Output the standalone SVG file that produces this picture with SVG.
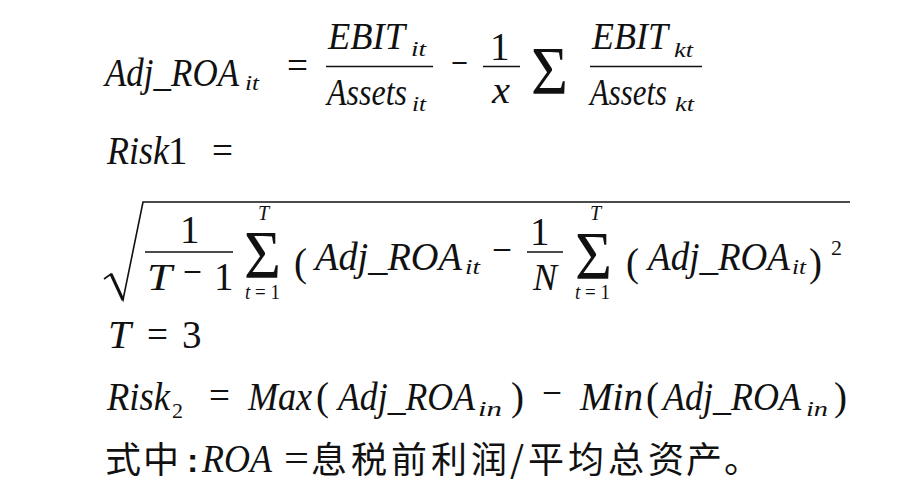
<svg xmlns="http://www.w3.org/2000/svg" width="906" height="492" viewBox="0 0 906 492" font-family="Liberation Serif, DejaVu Serif, serif">
<style>
text{fill:#111}
.m{font-style:italic;font-size:39px}
.f{font-style:italic;font-size:37px}
.u{font-size:39px}
.s{font-style:italic;font-size:22px}
.su{font-size:22px}
.sg{font-size:68px}
.lim{font-size:20px}
.cjk{font-size:36px}
.rule{stroke:#111;stroke-width:1.6;fill:none}
</style>
<rect width="906" height="492" fill="#fff"/>
<g id="eq1" font-family="Liberation Serif, DejaVu Serif, serif">
<text class="m" x="105" y="86" textLength="134" lengthAdjust="spacingAndGlyphs">Adj_ROA</text>
<text class="s" x="245" y="90" textLength="14" lengthAdjust="spacingAndGlyphs">it</text>
<text class="u" x="287" y="79" textLength="21" lengthAdjust="spacingAndGlyphs">=</text>
<text class="f" x="328" y="49" textLength="77" lengthAdjust="spacingAndGlyphs">EBIT</text>
<text class="s" x="411" y="56" textLength="15" lengthAdjust="spacingAndGlyphs">it</text>
<line class="rule" x1="326" y1="66.5" x2="433" y2="66.5"/>
<text class="f" x="327" y="105" textLength="80" lengthAdjust="spacingAndGlyphs">Assets</text>
<text class="s" x="412" y="111" textLength="14" lengthAdjust="spacingAndGlyphs">it</text>
<text class="u" x="451" y="76" font-size="30" textLength="17" lengthAdjust="spacingAndGlyphs">−</text>
<text class="u" x="490" y="60" font-size="36">1</text>
<line class="rule" x1="483" y1="66.5" x2="520" y2="66.5"/>
<text class="f" x="492" y="103" textLength="18" lengthAdjust="spacingAndGlyphs">x</text>
<text class="sg" x="531" y="93" textLength="37" lengthAdjust="spacingAndGlyphs">Σ</text>
<text class="f" x="592" y="49" textLength="76" lengthAdjust="spacingAndGlyphs">EBIT</text>
<text class="s" x="674" y="57" textLength="19" lengthAdjust="spacingAndGlyphs">kt</text>
<line class="rule" x1="590" y1="66.5" x2="702" y2="66.5"/>
<text class="f" x="590" y="105" textLength="77" lengthAdjust="spacingAndGlyphs">Assets</text>
<text class="s" x="675" y="111" textLength="19" lengthAdjust="spacingAndGlyphs">kt</text>
</g>
<g id="eq2" font-family="Liberation Serif, DejaVu Serif, serif">
<text class="m" x="107" y="164" textLength="62" lengthAdjust="spacingAndGlyphs">Risk</text>
<text class="u" x="168" y="164">1</text>
<text class="u" x="212" y="164" textLength="21" lengthAdjust="spacingAndGlyphs">=</text>
</g>
<g id="eq3" font-family="Liberation Serif, DejaVu Serif, serif">
<path class="rule" d="M104,279 L111,274 L123,300 L143,202 H850"/>
<line x1="111" y1="274" x2="123" y2="300" stroke="#111" stroke-width="3"/>
<text class="u" x="180" y="243" font-size="34">1</text>
<line class="rule" x1="145" y1="252" x2="233" y2="252"/>
<text class="f" x="147" y="290" textLength="25" lengthAdjust="spacingAndGlyphs">T</text>
<text class="u" x="183" y="285" font-size="30" textLength="19" lengthAdjust="spacingAndGlyphs">−</text>
<text class="u" x="214" y="290" font-size="34">1</text>
<text class="sg" x="244" y="277" textLength="37" lengthAdjust="spacingAndGlyphs">Σ</text>
<text class="lim" x="258" y="220" font-style="italic">T</text>
<text class="lim" x="245" y="299" textLength="35" lengthAdjust="spacingAndGlyphs"><tspan font-style="italic">t</tspan> = 1</text>
<text class="u" x="294" y="276" font-size="36">(</text>
<text class="m" x="315" y="270" textLength="147" lengthAdjust="spacingAndGlyphs">Adj_ROA</text>
<text class="s" x="465" y="274" textLength="15" lengthAdjust="spacingAndGlyphs">it</text>
<text class="u" x="492" y="263" font-size="30" textLength="20" lengthAdjust="spacingAndGlyphs">−</text>
<text class="u" x="530" y="245" font-size="34">1</text>
<line class="rule" x1="527" y1="252" x2="563" y2="252"/>
<text class="f" x="533" y="290" textLength="24" lengthAdjust="spacingAndGlyphs">N</text>
<text class="sg" x="575" y="278" textLength="37" lengthAdjust="spacingAndGlyphs">Σ</text>
<text class="lim" x="590" y="220" font-style="italic">T</text>
<text class="lim" x="575" y="299" textLength="35" lengthAdjust="spacingAndGlyphs"><tspan font-style="italic">t</tspan> = 1</text>
<text class="u" x="626" y="276" font-size="36">(</text>
<text class="m" x="648" y="270" textLength="142" lengthAdjust="spacingAndGlyphs">Adj_ROA</text>
<text class="s" x="792" y="274" textLength="14" lengthAdjust="spacingAndGlyphs">it</text>
<text class="u" x="809" y="276" font-size="36">)</text>
<text class="su" x="831" y="255">2</text>
</g>
<g id="eq4" font-family="Liberation Serif, DejaVu Serif, serif">
<text class="m" x="108" y="348" textLength="23" lengthAdjust="spacingAndGlyphs">T</text>
<text class="u" x="147" y="348" textLength="21" lengthAdjust="spacingAndGlyphs">=</text>
<text class="u" x="182" y="348">3</text>
</g>
<g id="eq5" font-family="Liberation Serif, DejaVu Serif, serif">
<text class="m" x="107" y="410" textLength="63" lengthAdjust="spacingAndGlyphs">Risk</text>
<text class="su" x="172" y="418">2</text>
<text class="u" x="209" y="409" textLength="21" lengthAdjust="spacingAndGlyphs">=</text>
<text class="m" x="248" y="410" textLength="64" lengthAdjust="spacingAndGlyphs">Max</text>
<text class="u" x="316" y="410">(</text>
<text class="m" x="338" y="410" textLength="137" lengthAdjust="spacingAndGlyphs">Adj_ROA</text>
<text class="s" x="478" y="416" textLength="24" lengthAdjust="spacingAndGlyphs">in</text>
<text class="u" x="511" y="410">)</text>
<text class="u" x="542" y="406" font-size="30" textLength="20" lengthAdjust="spacingAndGlyphs">−</text>
<text class="m" x="580" y="410" textLength="63" lengthAdjust="spacingAndGlyphs">Min</text>
<text class="u" x="646" y="410">(</text>
<text class="m" x="663" y="410" textLength="138" lengthAdjust="spacingAndGlyphs">Adj_ROA</text>
<text class="s" x="806" y="416" textLength="22" lengthAdjust="spacingAndGlyphs">in</text>
<text class="u" x="834" y="410">)</text>
</g>
<g id="note">
<text class="cjk" font-family="Noto Sans CJK SC, sans-serif" x="105 143" y="473">式中</text>
<text x="187" y="472" font-family="Liberation Sans, sans-serif" font-weight="bold" font-size="34">:</text>
<text class="m" font-family="Liberation Serif, DejaVu Serif, serif" x="202" y="472" font-size="37" textLength="70" lengthAdjust="spacingAndGlyphs">ROA</text>
<text class="u" font-family="Liberation Serif, DejaVu Serif, serif" x="284" y="472" textLength="25" lengthAdjust="spacingAndGlyphs">=</text>
<text class="cjk" font-family="Noto Sans CJK SC, sans-serif" x="311 351 391 431 471 510 528 568 608 648 686 724" y="473">息税前利润/平均总资产。</text>
</g>
</svg>
